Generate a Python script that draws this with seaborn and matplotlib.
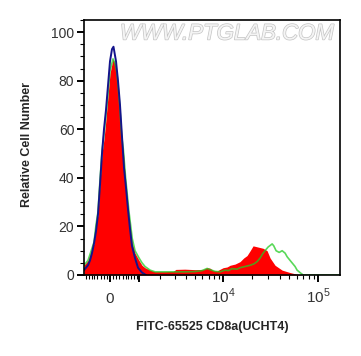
import numpy as np
import pandas as pd
import seaborn as sns
import matplotlib.pyplot as plt
import matplotlib.patheffects as pe
from matplotlib.ticker import FixedLocator, FixedFormatter, MultipleLocator

# histogram traces (fluorescence units, cell counts)
red_x = [-873, -725, -585, -516, -450, -383, -318, -253, -190, -142, -95, 0, 94, 158, 221,
         308, 373, 425, 503, 619, 735, 836, 991, 1112, 1238, 1470, 1715, 2290, 2870, 3070,
         3880, 5000, 6100, 6750, 7260, 7810, 8620, 10000, 11010, 11850, 13390, 15100, 16500,
         17900, 19300, 20720, 21760, 23400, 26400, 29100, 31300, 35300, 41900, 50800, 60200,
         69600, 170000]
red_y = [4, 6, 11, 13, 20, 25, 38, 50, 56, 62, 69, 83, 89, 87, 83,
         69, 55.5, 51, 38, 24, 13, 9, 6, 4, 3, 2, 1.4, 1.4, 1.5, 2.3,
         2.4, 2.2, 2.3, 3, 2.8, 1.9, 1.7, 3, 3.3, 4, 4.5, 5.5, 7,
         8, 10, 12, 11.8, 11.5, 11, 10, 7, 4, 2, 1, 0.3,
         0, 0]

green_x = [-873, -725, -585, -516, -450, -383, -318, -253, -190, -142, -95, 0, 94, 158, 221,
           308, 373, 425, 503, 619, 735, 836, 991, 1112, 1238, 1470, 1715, 2630, 3880, 5000,
           5960, 6750, 7260, 8200, 9290, 10490, 11400, 12400, 14000, 15100, 17070, 19300,
           21200, 22840, 24600, 26400, 27700, 29800, 32900, 34200, 36200, 39000, 41900, 45000,
           47300, 50800, 53300, 57300, 60200, 64600, 69600, 170000]
green_y = [4, 6, 11, 13.5, 20.5, 26, 39, 51, 58, 64, 70, 84, 89, 87, 83,
           70, 57, 52, 40, 26, 15, 10, 7, 5, 3.5, 2, 1.3, 1.3, 1.3, 1.4,
           1.8, 2.7, 2.2, 1.5, 1.3, 2, 1.8, 2.6, 2.4, 3, 3.5, 4,
           4.6, 5.5, 7, 9, 10, 11.5, 12.8, 12, 10, 9.3, 10, 9,
           7.5, 6, 5, 3.5, 2, 1, 0, 0]

blue_x = [-873, -798, -725, -654, -585, -516, -450, -383, -318, -253, -190, -126, -63, 0, 63,
          110, 190, 253, 318, 383, 450, 516, 585, 654, 725, 836, 950, 1112, 1280]
blue_y = [2, 3, 4, 6, 9, 13, 18, 25, 37, 50, 60, 68, 78, 88, 93,
          94, 88, 80, 70, 57, 44, 36, 27, 19, 12, 7, 3, 1, 0]

x_major = [0, 1000, 10000, 100000]
x_major_labels = ["0", "", "$10^4$", "$10^5$"]
x_minor = ([v * 100 for v in range(-8, 10) if v != 0]
           + [v * 1000 for v in range(2, 10)] + [v * 10000 for v in range(2, 10)])

red_df = pd.DataFrame({"x": red_x, "y": red_y})
green_df = pd.DataFrame({"x": green_x, "y": green_y})
blue_df = pd.DataFrame({"x": blue_x, "y": blue_y})

sns.set_style("ticks")
plt.rcParams["font.family"] = ["Liberation Sans", "DejaVu Sans"]
plt.rcParams["mathtext.fontset"] = "custom"
plt.rcParams["mathtext.rm"] = "Liberation Sans"

fig = plt.figure(figsize=(3.61, 3.56), dpi=100)
ax = fig.add_axes([84 / 361, 81 / 356, 256 / 361, 255 / 356])

ax.fill_between(red_df["x"], red_df["y"], 0, color="#ff0000", linewidth=0)
sns.lineplot(data=green_df, x="x", y="y", ax=ax, color="#22cc22", alpha=0.75,
             linewidth=1.2, estimator=None, sort=False)
sns.lineplot(data=blue_df, x="x", y="y", ax=ax, color="#14148c",
             linewidth=1.4, estimator=None, sort=False)

# biexponential-like display: arcsinh
c = 1300.0
ax.set_xscale("function", functions=(lambda v: np.arcsinh(np.asarray(v) / c),
                                     lambda v: c * np.sinh(np.asarray(v))))
ax.set_xlim(-873, 170000)
ax.set_ylim(0, 105)

ax.xaxis.set_major_locator(FixedLocator(x_major))
ax.xaxis.set_major_formatter(FixedFormatter(x_major_labels))
ax.xaxis.set_minor_locator(FixedLocator(x_minor))
ax.yaxis.set_major_locator(MultipleLocator(20))
ax.yaxis.set_minor_locator(MultipleLocator(5))

ax.tick_params(axis="both", which="major", direction="out", length=5, width=1.4,
               color="black", labelsize=10, labelcolor="#333333")
ax.tick_params(axis="both", which="minor", direction="out", length=3, width=0.8, color="black")
ax.tick_params(axis="y", which="major", pad=2)
ax.tick_params(axis="x", which="major", pad=15, labelsize=11)
for lbl in ax.get_xticklabels():
    lbl.set_verticalalignment("baseline")

for s in ax.spines.values():
    s.set_linewidth(1.2)
    s.set_color("black")

ax.set_xlabel("FITC-65525 CD8a(UCHT4)", fontsize=9, fontweight="bold")
ax.set_ylabel("Relative Cell Number", fontsize=9, fontweight="bold")
ax.xaxis.set_label_coords(0.5, -0.205)
ax.xaxis.label.set_va("center")
ax.yaxis.set_label_coords(-0.223, 0.51)
ax.yaxis.label.set_va("center")

ax.text(0.977, 0.945, "WWW.PTGLAB.COM", transform=ax.transAxes, ha="right", va="center",
        fontsize=16, style="italic", color="#f4f4f4",
        path_effects=[pe.withStroke(linewidth=1.0, foreground="#c4c4c4")])

fig.savefig("out.png", dpi=100)
